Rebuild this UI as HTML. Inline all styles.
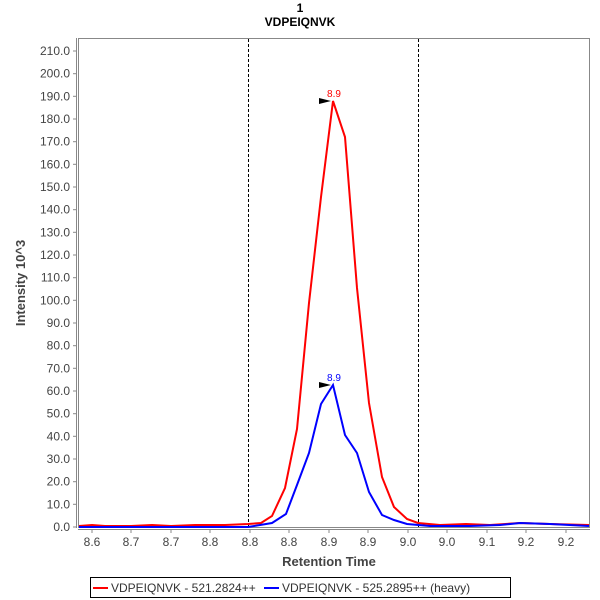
<!DOCTYPE html>
<html><head><style>body{margin:0;background:#fff}svg{display:block}</style></head><body>
<svg width="600" height="600" xmlns="http://www.w3.org/2000/svg" font-family="Liberation Sans, DejaVu Sans, sans-serif">
<rect width="600" height="600" fill="#fff"/>
<text x="300" y="12" text-anchor="middle" font-size="12" font-weight="bold">1</text>
<text x="300" y="26" text-anchor="middle" font-size="12" font-weight="bold">VDPEIQNVK</text>
<rect x="78.5" y="38.5" width="511" height="489" fill="none" stroke="#888"/>
<line x1="76.5" y1="38" x2="76.5" y2="528" stroke="#888"/>
<line x1="78" y1="529.5" x2="590" y2="529.5" stroke="#888"/>
<g font-size="12" fill="#444" text-anchor="end">
<text x="70" y="531">0.0</text><text x="70" y="508.3">10.0</text><text x="70" y="485.7">20.0</text><text x="70" y="463">30.0</text><text x="70" y="440.3">40.0</text><text x="70" y="417.7">50.0</text><text x="70" y="395">60.0</text><text x="70" y="372.3">70.0</text><text x="70" y="349.7">80.0</text><text x="70" y="327">90.0</text><text x="70" y="304.3">100.0</text><text x="70" y="281.7">110.0</text><text x="70" y="259">120.0</text><text x="70" y="236.3">130.0</text><text x="70" y="213.7">140.0</text><text x="70" y="191">150.0</text><text x="70" y="168.3">160.0</text><text x="70" y="145.7">170.0</text><text x="70" y="123">180.0</text><text x="70" y="100.3">190.0</text><text x="70" y="77.7">200.0</text><text x="70" y="55">210.0</text>
</g>
<g stroke="#888"><line x1="73" x2="76" y1="527" y2="527"/><line x1="73" x2="76" y1="504.3" y2="504.3"/><line x1="73" x2="76" y1="481.7" y2="481.7"/><line x1="73" x2="76" y1="459" y2="459"/><line x1="73" x2="76" y1="436.3" y2="436.3"/><line x1="73" x2="76" y1="413.7" y2="413.7"/><line x1="73" x2="76" y1="391" y2="391"/><line x1="73" x2="76" y1="368.3" y2="368.3"/><line x1="73" x2="76" y1="345.7" y2="345.7"/><line x1="73" x2="76" y1="323" y2="323"/><line x1="73" x2="76" y1="300.3" y2="300.3"/><line x1="73" x2="76" y1="277.7" y2="277.7"/><line x1="73" x2="76" y1="255" y2="255"/><line x1="73" x2="76" y1="232.3" y2="232.3"/><line x1="73" x2="76" y1="209.7" y2="209.7"/><line x1="73" x2="76" y1="187" y2="187"/><line x1="73" x2="76" y1="164.3" y2="164.3"/><line x1="73" x2="76" y1="141.7" y2="141.7"/><line x1="73" x2="76" y1="119" y2="119"/><line x1="73" x2="76" y1="96.3" y2="96.3"/><line x1="73" x2="76" y1="73.7" y2="73.7"/><line x1="73" x2="76" y1="51" y2="51"/></g>
<g stroke="#000" stroke-dasharray="3,2"><line x1="248.5" y1="39" x2="248.5" y2="527"/><line x1="418.5" y1="39" x2="418.5" y2="527"/></g>
<polyline fill="none" stroke="#f00" stroke-width="2" points="79,526 92,525 105,526 131,526 152,525 171,526 195,525 225,525 248,524 261,523 272,516 285,488 297,429 309,303 321,197 333,101 345,137 357,288 369,403 382,477 394,507 407,519 418,523 440,525 466,524 490,525 520,523 550,524 589,525"/>
<polyline fill="none" stroke="#00f" stroke-width="2" points="79,527 150,527 248,527 272,523 286,514 297,485 309,453 321,404 333,385 345,435 357,453 369,492 382,515 394,520 407,524 430,526 470,526 500,525 520,523 550,524 589,526"/>
<polygon points="319,98 331,101 319,104" fill="#000"/>
<polygon points="319,382 331,385 319,388" fill="#000"/>
<text x="334" y="97" text-anchor="middle" font-size="10" fill="#f00">8.9</text>
<text x="334" y="381" text-anchor="middle" font-size="10" fill="#00f">8.9</text>
<g font-size="12" fill="#444" text-anchor="middle">
<text x="92" y="546">8.6</text><text x="131" y="546">8.7</text><text x="171" y="546">8.7</text><text x="210" y="546">8.8</text><text x="250" y="546">8.8</text><text x="289" y="546">8.8</text><text x="329" y="546">8.9</text><text x="368" y="546">8.9</text><text x="408" y="546">9.0</text><text x="447" y="546">9.0</text><text x="487" y="546">9.1</text><text x="526" y="546">9.2</text><text x="566" y="546">9.2</text>
</g>
<g stroke="#888"><line x1="92" y1="530" x2="92" y2="533"/><line x1="131" y1="530" x2="131" y2="533"/><line x1="171" y1="530" x2="171" y2="533"/><line x1="210" y1="530" x2="210" y2="533"/><line x1="250" y1="530" x2="250" y2="533"/><line x1="289" y1="530" x2="289" y2="533"/><line x1="329" y1="530" x2="329" y2="533"/><line x1="368" y1="530" x2="368" y2="533"/><line x1="408" y1="530" x2="408" y2="533"/><line x1="447" y1="530" x2="447" y2="533"/><line x1="487" y1="530" x2="487" y2="533"/><line x1="526" y1="530" x2="526" y2="533"/><line x1="566" y1="530" x2="566" y2="533"/></g>
<text x="329" y="566" text-anchor="middle" font-size="13" font-weight="bold" fill="#444">Retention Time</text>
<text transform="translate(25,283) rotate(-90)" text-anchor="middle" font-size="13" font-weight="bold" fill="#444">Intensity 10^3</text>
<rect x="90.5" y="577.5" width="420" height="20" fill="#fff" stroke="#000"/>
<line x1="93" y1="588" x2="108" y2="588" stroke="#f00" stroke-width="2"/>
<text x="111" y="592" font-size="12" fill="#333">VDPEIQNVK - 521.2824++</text>
<line x1="264" y1="588" x2="279" y2="588" stroke="#00f" stroke-width="2"/>
<text x="282" y="592" font-size="12" fill="#333">VDPEIQNVK - 525.2895++ (heavy)</text>
</svg>
</body></html>
